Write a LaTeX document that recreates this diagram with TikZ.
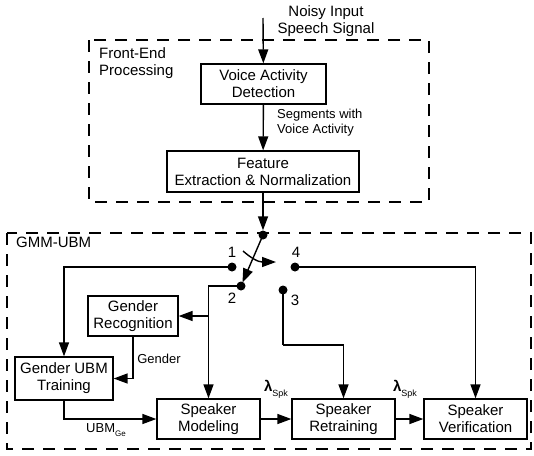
\documentclass[tikz,border=0pt]{standalone}
\usepackage{fontspec}
\setmainfont{Liberation Sans}
\usetikzlibrary{arrows.meta}
\begin{document}
\begin{tikzpicture}[x=1pt,y=-1pt,
  box/.style={draw,line width=1.3pt,align=center,inner sep=0pt,font=\fontsize{15}{17}\selectfont},
  arr/.style={line width=1.4pt,-{Triangle[length=14pt,width=10pt]}},
  ln/.style={line width=1.4pt},
  dot/.style={circle,fill,inner sep=0pt,minimum size=9pt},
  frame/.style={line width=1.4pt,dash pattern=on 12pt off 9pt},
  lbl/.style={font=\fontsize{15}{17}\selectfont,inner sep=0pt},
  slbl/.style={font=\fontsize{13}{15}\selectfont,inner sep=0pt,align=left}]
\useasboundingbox (0,0) rectangle (534,455);
% frames
\draw[frame] (89,40) rectangle (429,202);
\draw[frame] (7,233) rectangle (531,449);
\node[lbl,anchor=north west,align=left] (fel) at (99,47) {Front-End\\Processing};
\node[lbl,anchor=north west] (gml) at (16,237) {GMM-UBM};
% boxes
\node[box,minimum width=125pt,minimum height=40pt] (vad) at (263.5,84) {Voice Activity\\Detection};
\node[box,minimum width=192pt,minimum height=41pt] (fen) at (263,171.5) {Feature\\Extraction \& Normalization};
\node[box,minimum width=90pt,minimum height=40pt] (grec) at (133,316) {Gender\\Recognition};
\node[box,minimum width=98pt,minimum height=43pt] (gubm) at (64,378.5) {Gender UBM\\Training};
\node[box,minimum width=103pt,minimum height=40pt] (smod) at (208.5,419) {Speaker\\Modeling};
\node[box,minimum width=103pt,minimum height=40pt] (sret) at (343.5,419) {Speaker\\Retraining};
\node[box,minimum width=103pt,minimum height=40pt] (sver) at (475.5,419) {Speaker\\Verification};
% input
\node[lbl,align=center] (inl) at (326,21) {Noisy Input\\Speech Signal};
\coordinate (in) at (263,18);
\draw[arr] (in) -- (vad);
\draw[arr] (vad) -- (fen);
\node[slbl,anchor=north west] (segl) at (277,109) {Segments with\\Voice Activity};
% switch
\node[dot] (j) at (263,235) {};
\node[dot] (d1) at (232,267) {};
\node[dot] (d4) at (295,267) {};
\node[dot] (d2) at (241,286) {};
\node[dot] (d3) at (283,290) {};
\node[lbl] (l1) at (232,252) {1};
\node[lbl] (l4) at (296,252) {4};
\node[lbl] (l2) at (232,298) {2};
\node[lbl] (l3) at (295,300) {3};
\draw[arr] (fen) -- (j);
\draw[arr,shorten >=-1pt] (j.center) -- (d2);
\coordinate (ca) at (243,251);
\coordinate (cb) at (276,262);
\draw[arr] (ca) .. controls (251,258) and (258,262) .. (cb);
% connections
\draw[arr] (d1.center) -| (gubm);
\draw[arr] (d2.center) -| (smod);
\coordinate (br) at (smod.north |- grec.east);
\draw[arr] (br) -- (grec);
\draw[arr] (grec.south) |- (gubm.east);
\node[slbl] (gl) at (159,359) {Gender};
\draw[arr] (gubm.south) |- (smod.west);
\node[slbl] (ubl) at (106,430) {UBM\raisebox{-0.5ex}{\fontsize{8}{8}\selectfont Ge}};
\draw[arr] (smod) -- (sret);
\draw[arr] (sret) -- (sver);
\node[lbl] (lam1) at (276,389) {\textbf{λ}\raisebox{-0.6ex}{\fontsize{9}{9}\selectfont Spk}};
\node[lbl] (lam2) at (405,389) {\textbf{λ}\raisebox{-0.6ex}{\fontsize{9}{9}\selectfont Spk}};
\coordinate (k3) at (283,345);
\draw[ln] (d3.center) -- (k3);
\draw[arr] (k3) -| (sret);
\draw[arr] (d4.center) -| (sver);
\end{tikzpicture}
\end{document}
